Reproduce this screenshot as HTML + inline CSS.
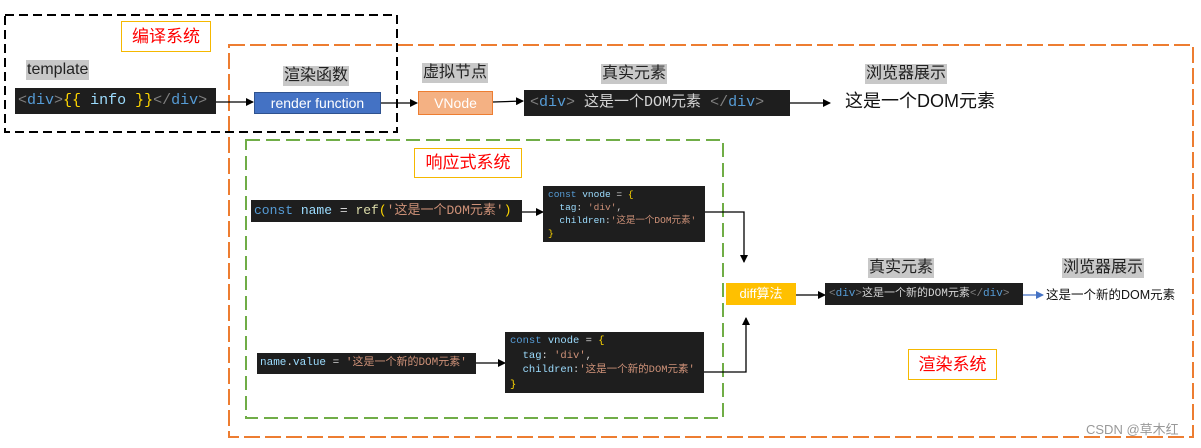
<!DOCTYPE html>
<html><head><meta charset="utf-8"><style>
body{margin:0;width:1201px;height:448px;background:#fff;position:relative;overflow:hidden;font-family:"Liberation Sans","Noto Sans CJK SC",sans-serif;}
.a{position:absolute;white-space:nowrap;box-sizing:border-box;overflow:hidden;}
.code{background:#1e1e1e;font-family:"Liberation Mono","Noto Sans CJK SC",monospace;color:#d4d4d4;}
.k{color:#569cd6}.v{color:#9cdcfe}.s{color:#ce9178}.y{color:#ffd700}.g{color:#808080}.f{color:#dcdcaa}
.lbl{background:#c8c8c8;color:#222;font-size:16px;line-height:20px;padding:0 1px;}
.sys{border:1.5px solid #f5b800;color:#f00;font-size:17px;text-align:center;background:#fff;}
</style></head><body>
<svg class="a" style="left:0;top:0" width="1201" height="448">
<defs><marker id="ar" markerWidth="8" markerHeight="8" refX="7" refY="4" orient="auto" markerUnits="userSpaceOnUse"><path d="M0,0 L8,4 L0,8z" fill="#000"/></marker>
<marker id="ab" markerWidth="8" markerHeight="8" refX="7" refY="4" orient="auto" markerUnits="userSpaceOnUse"><path d="M0,0 L8,4 L0,8z" fill="#4472c4"/></marker></defs>
<rect x="229" y="45" width="964" height="392" fill="none" stroke="#ed7d31" stroke-width="2" stroke-dasharray="16,5"/>
<rect x="246" y="140" width="477" height="278" fill="none" stroke="#70ad47" stroke-width="2" stroke-dasharray="14,6"/>
<rect x="5" y="15" width="392" height="117" fill="none" stroke="#000" stroke-width="2" stroke-dasharray="9,5"/>
<g stroke="#000" stroke-width="1.3" fill="none">
<line x1="216" y1="102" x2="253" y2="102" marker-end="url(#ar)"/>
<line x1="381" y1="103" x2="417" y2="103" marker-end="url(#ar)"/>
<line x1="493" y1="102" x2="523" y2="101" marker-end="url(#ar)"/>
<line x1="790" y1="103" x2="830" y2="103" marker-end="url(#ar)"/>
<line x1="522" y1="212" x2="543" y2="212" marker-end="url(#ar)"/>
<polyline points="705,212 744,212 744,262" marker-end="url(#ar)"/>
<line x1="476" y1="363" x2="505" y2="363" marker-end="url(#ar)"/>
<polyline points="704,372 746,372 746,318" marker-end="url(#ar)"/>
<line x1="796" y1="295" x2="825" y2="295" marker-end="url(#ar)"/>
</g>
<line x1="1023" y1="295" x2="1043" y2="295" stroke="#4472c4" stroke-width="1.3" marker-end="url(#ab)"/>
</svg>

<div class="a sys" style="left:121px;top:21px;width:90px;height:31px;line-height:29px;">编译系统</div>
<div class="a lbl" style="left:26px;top:60px;">template</div>
<div class="a code" style="left:15px;top:88px;width:201px;height:26px;line-height:26px;font-size:15px;padding-left:3px;"><span class="g">&lt;</span><span class="k">div</span><span class="g">&gt;</span><span class="y">{{</span> <span class="v">info</span> <span class="y">}}</span><span class="g">&lt;/</span><span class="k">div</span><span class="g">&gt;</span></div>

<div class="a lbl" style="left:283px;top:66px;">渲染函数</div>
<div class="a" style="left:254px;top:92px;width:127px;height:22px;background:#4472c4;border:1px solid #2f528f;color:#fff;font-size:14px;line-height:20px;text-align:center;">render function</div>
<div class="a lbl" style="left:422px;top:63px;">虚拟节点</div>
<div class="a" style="left:418px;top:91px;width:75px;height:24px;background:#f4b183;border:1px solid #ed7d31;color:#fff;font-size:14px;line-height:22px;text-align:center;">VNode</div>
<div class="a lbl" style="left:601px;top:64px;">真实元素</div>
<div class="a code" style="left:524px;top:90px;width:266px;height:26px;line-height:26px;font-size:15px;padding-left:6px;"><span class="g">&lt;</span><span class="k">div</span><span class="g">&gt;</span> 这是一个DOM元素 <span class="g">&lt;/</span><span class="k">div</span><span class="g">&gt;</span></div>
<div class="a lbl" style="left:865px;top:64px;">浏览器展示</div>
<div class="a" style="left:845px;top:89px;font-size:18px;color:#111;line-height:24px;">这是一个DOM元素</div>

<div class="a sys" style="left:414px;top:148px;width:108px;height:30px;line-height:28px;">响应式系统</div>
<div class="a code" style="left:251px;top:200px;width:271px;height:22px;line-height:22px;font-size:13px;padding-left:3px;"><span class="k">const</span> <span class="v">name</span> = <span class="f">ref</span><span class="y">(</span><span class="s">'这是一个DOM元素'</span><span class="y">)</span></div>
<div class="a code" style="left:543px;top:186px;width:162px;height:56px;font-size:9.5px;line-height:13px;padding:2px 0 0 5px;"><span class="k">const</span> <span class="v">vnode</span> = <span class="y">{</span><br>&nbsp;&nbsp;<span class="v">tag</span>: <span class="s">'div'</span>,<br>&nbsp;&nbsp;<span class="v">children</span>:<span class="s">'这是一个DOM元素'</span><br><span class="y">}</span></div>

<div class="a code" style="left:257px;top:353px;width:219px;height:21px;line-height:21px;font-size:11px;padding-left:3px;"><span class="v">name</span>.<span class="v">value</span> = <span class="s">'这是一个新的DOM元素'</span></div>
<div class="a code" style="left:505px;top:332px;width:199px;height:61px;font-size:10.5px;line-height:14.5px;padding:2px 0 0 5px;"><span class="k">const</span> <span class="v">vnode</span> = <span class="y">{</span><br>&nbsp;&nbsp;<span class="v">tag</span>: <span class="s">'div'</span>,<br>&nbsp;&nbsp;<span class="v">children</span>:<span class="s">'这是一个新的DOM元素'</span><br><span class="y">}</span></div>

<div class="a" style="left:726px;top:283px;width:70px;height:22px;background:#ffc000;color:#fff;font-size:13px;line-height:22px;text-align:center;">diff算法</div>
<div class="a lbl" style="left:868px;top:258px;">真实元素</div>
<div class="a lbl" style="left:1062px;top:258px;">浏览器展示</div>
<div class="a code" style="left:825px;top:283px;width:198px;height:22px;line-height:22px;font-size:11px;padding-left:4px;"><span class="g">&lt;</span><span class="k">div</span><span class="g">&gt;</span>这是一个新的DOM元素<span class="g">&lt;/</span><span class="k">div</span><span class="g">&gt;</span></div>
<div class="a" style="left:1046px;top:286px;font-size:12.5px;color:#111;line-height:18px;">这是一个新的DOM元素</div>

<div class="a sys" style="left:908px;top:349px;width:89px;height:31px;line-height:29px;">渲染系统</div>
<div class="a" style="left:1086px;top:419px;font-size:13px;color:#999;">CSDN @草木红</div>
</body></html>
